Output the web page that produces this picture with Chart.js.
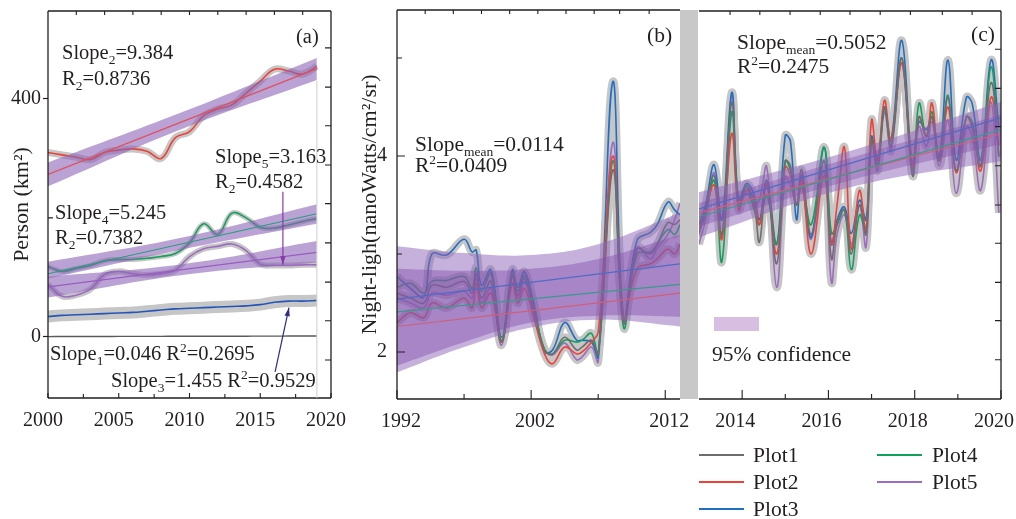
<!DOCTYPE html>
<html lang="en">
<head>
<meta charset="UTF-8">
<title>Night light trends</title>
<script src="https://cdn.jsdelivr.net/npm/chart.js@4"></script>
<style>
  html, body { margin: 0; padding: 0; background: #fff; width: 1016px; height: 519px; overflow: hidden; }
  body { position: relative; font-family: "Liberation Serif", "DejaVu Serif", serif; color: #231f20; }
  canvas { position: absolute; top: 0; }
  #chartA { left: 0; }
  #chartB { left: 340px; }
  #chartC { left: 685px; }
  .gap { position: absolute; left: 680px; top: 10px; width: 18px; height: 389px; background: #c8c8c8; }
  .note { position: absolute; font-size: 20.5px; line-height: 1; white-space: nowrap; }
  .big { font-size: 21.5px; }
  .note sub, .note sup { font-size: 13.5px; line-height: 0; }
  .key { position: absolute; height: 2px; width: 45px; }
  .swatch { position: absolute; left: 714px; top: 317px; width: 45px; height: 14px; background: #d8bfe2; }
</style>
</head>
<body>
<canvas id="chartA" width="360" height="432"></canvas>
<canvas id="chartB" width="360" height="432"></canvas>
<canvas id="chartC" width="340" height="432"></canvas>
<div class="gap"></div>

<div class="note" style="left:296px;top:26px">(a)</div>
<div class="note" style="left:62px;top:42px">Slope<sub>2</sub>=9.384</div>
<div class="note" style="left:62px;top:68px">R<sub>2</sub>=0.8736</div>
<div class="note" style="left:215px;top:146px">Slope<sub>5</sub>=3.163</div>
<div class="note" style="left:215px;top:171px">R<sub>2</sub>=0.4582</div>
<div class="note" style="left:55px;top:202px">Slope<sub>4</sub>=5.245</div>
<div class="note" style="left:55px;top:227px">R<sub>2</sub>=0.7382</div>
<div class="note" style="left:50px;top:343px">Slope<sub>1</sub>=0.046 R<sup>2</sup>=0.2695</div>
<div class="note" style="left:111px;top:370px">Slope<sub>3</sub>=1.455 R<sup>2</sup>=0.9529</div>

<div class="note big" style="left:647px;top:25px">(b)</div>
<div class="note big" style="left:415px;top:134px">Slope<sub>mean</sub>=0.0114</div>
<div class="note big" style="left:415px;top:155px">R<sup>2</sup>=0.0409</div>

<div class="note big" style="left:971px;top:24px">(c)</div>
<div class="note big" style="left:737px;top:32px">Slope<sub>mean</sub>=0.5052</div>
<div class="note big" style="left:737px;top:56px">R<sup>2</sup>=0.2475</div>

<div class="swatch"></div>
<div class="note big" style="left:712px;top:344px">95% confidence</div>

<div class="key" style="left:699px;top:454px;background:#6d6d6d"></div>
<div class="note big" style="left:753px;top:445px">Plot1</div>
<div class="key" style="left:699px;top:481px;background:#ef4136"></div>
<div class="note big" style="left:753px;top:472px">Plot2</div>
<div class="key" style="left:699px;top:508px;background:#1f6fc5"></div>
<div class="note big" style="left:753px;top:499px">Plot3</div>
<div class="key" style="left:877px;top:454px;background:#12a05c"></div>
<div class="note big" style="left:932px;top:445px">Plot4</div>
<div class="key" style="left:877px;top:481px;background:#9d6cc0"></div>
<div class="note big" style="left:932px;top:472px">Plot5</div>

<script>
// ---------- panel (a): area per person, 2000-2019 ----------
const yearsA = [2000, 2001, 2002, 2003, 2004, 2005, 2006, 2007, 2008, 2009,
                2010, 2011, 2012, 2013, 2014, 2015, 2016, 2017, 2018, 2019];
const plot1A = [0.3, 0.4, 0.4, 0.5, 0.5, 0.6, 0.6, 0.7, 0.7, 0.8, 0.8, 0.9, 0.9, 1.0, 1.0, 1.1, 1.1, 1.2, 1.2, 1.3];
const plot2A = [310, 306, 302, 298, 310, 314, 316, 312, 300, 335, 345, 372, 383, 390, 410, 430, 450, 447, 442, 455];
const plot3A = [34, 36, 37, 38, 39, 40, 41, 43, 45, 47, 48, 49, 50, 51, 52, 54, 58, 60, 60, 61];
const plot4A = [118, 110, 115, 120, 128, 130, 130, 132, 135, 140, 158, 190, 172, 208, 200, 184, 183, 188, 194, 199];
const plot5A = [88, 68, 70, 80, 105, 110, 106, 104, 106, 112, 135, 148, 152, 156, 145, 122, 120, 120, 121, 121];

const fitYearsA = [2000, 2019];
const fit2A = [273, 451];
const fit4A = [106, 207];
const fit5A = [84, 142];

const bandYearsA = [2000, 2009.5, 2019];
const band2HiA = [293, 378, 469];
const band2LoA = [253, 350, 432];
const band4HiA = [126, 167, 223];
const band4LoA = [98, 147, 190];
const band5HiA = [101, 122, 161];
const band5LoA = [66, 104, 125];

const xLabelsA = [2000, 2005, 2010, 2015, 2020];
const xMinorA = [2002.5, 2007.5, 2012.5, 2017.5];
const xTopA = [2002, 2004, 2006, 2008, 2010, 2012, 2014, 2016, 2018];
const yLabelsA = [0, 400];
const yMinorA = [200];
const yRightA = [-39, 27, 92, 158, 224, 289, 355, 420, 486];

// ---------- panel (b): night light 1992-2013 ----------
const tB = [1992.0, 1993.0, 1994.0, 1994.6, 1995.7, 1997.0, 1997.6, 1997.9, 1998.3, 1999.0,
            1999.8, 2000.6, 2001.0, 2001.5, 2002.2, 2003.0, 2003.6, 2004.5, 2005.4, 2005.8,
            2006.5, 2007.0, 2008.1, 2008.9, 2009.9, 2010.9, 2011.4, 2012.2, 2012.7, 2013.1];
const plot1B = [2.6, 2.55, 2.5, 2.68, 2.66, 2.72, 2.6, 2.8, 2.55, 2.72, 2.1, 2.78, 2.58, 2.75, 2.42,
                2.02, 1.98, 2.15, 2.02, 2.05, 2.12, 1.98, 3.86, 2.3, 3.05, 3.0, 3.1, 3.32, 3.3, 3.35];
const plot2B = [2.3, 2.4, 2.35, 2.5, 2.45, 2.55, 2.45, 2.7, 2.45, 2.6, 2.1, 2.7, 2.5, 2.65, 2.35,
                1.98, 1.88, 2.05, 1.98, 2.0, 2.1, 2.2, 4.0, 2.35, 2.85, 2.9, 2.95, 3.05, 3.0, 3.1];
const plot3B = [2.77, 2.65, 2.56, 3.0, 2.99, 3.15, 3.02, 3.04, 2.68, 2.84, 2.15, 2.84, 2.66, 2.82, 2.5,
                2.0, 2.02, 2.3, 2.12, 2.12, 2.1, 1.95, 4.76, 2.35, 3.14, 3.22, 3.3, 3.53, 3.45, 3.4];
const plot4B = [2.66, 2.7, 2.6, 2.72, 2.73, 2.77, 2.65, 2.86, 2.62, 2.8, 2.12, 2.8, 2.62, 2.78, 2.45,
                2.03, 1.98, 2.12, 2.1, 2.12, 2.19, 1.97, 3.95, 2.25, 3.0, 3.02, 3.1, 3.25, 3.2, 3.3];
const plot5B = [2.55, 2.5, 2.45, 2.6, 2.58, 2.62, 2.55, 2.75, 2.5, 2.65, 2.07, 2.78, 2.55, 2.72, 2.4,
                2.02, 1.97, 2.09, 1.92, 1.95, 2.05, 1.9, 4.14, 2.3, 3.07, 2.95, 3.06, 3.2, 3.35, 3.52];

const fitYearsB = [1992, 2013.1];
const fitBlueB = [2.54, 2.9];
const fitGreenB = [2.41, 2.69];
const fitRedB = [2.26, 2.6];

const bandYearsB = [1992, 1997, 2002, 2007, 2013.1];
const bandHiB = [3.08, 3.01, 2.99, 3.1, 3.42];
const bandLoB = [1.79, 2.05, 2.25, 2.33, 2.26];
const innerHiB = [2.85, 2.83, 2.85, 2.95, 3.2];
const innerLoB = [1.86, 2.1, 2.3, 2.37, 2.36];

const xLabelsB = [1992, 2002, 2012];
const xMinorB = [1997, 2007];
const xTopB = [1994.1, 1996.2, 1998.3, 2000.4, 2002.5, 2004.6, 2006.7, 2008.6, 2010.8];
const yLabelsB = [2, 4];
const yMinorB = [3, 5];

// ---------- panel (c): night light 2013-2020 ----------
const tC = [2013.0, 2013.15, 2013.35, 2013.53, 2013.76, 2013.92, 2014.1, 2014.28, 2014.4, 2014.57,
            2014.8, 2015.0, 2015.12, 2015.26, 2015.38, 2015.6, 2015.9, 2016.07, 2016.2, 2016.37,
            2016.53, 2016.72, 2016.87, 2017.0, 2017.14, 2017.3, 2017.45, 2017.7, 2017.95, 2018.1,
            2018.27, 2018.4, 2018.57, 2018.77, 2018.96, 2019.2, 2019.33, 2019.53, 2019.77, 2019.95];
const plot1C = [3.2, 3.45, 3.8, 3.2, 4.55, 3.5, 3.7, 3.5, 3.12, 3.75, 2.9, 3.95, 3.9, 3.5, 3.86, 3.2,
                3.95, 2.95, 3.3, 3.45, 3.0, 3.5, 3.2, 4.15, 3.9, 4.5, 4.1, 5.0, 3.8, 4.4, 4.2, 4.4,
                3.95, 4.6, 3.85, 4.4, 4.3, 3.9, 4.75, 4.0];
const plot2C = [3.25, 3.45, 3.7, 3.15, 4.23, 3.45, 3.65, 3.55, 3.3, 3.7, 3.0, 3.89, 3.8, 3.5, 3.75, 3.0,
                3.8, 3.1, 3.5, 4.09, 3.05, 3.65, 3.24, 4.37, 3.96, 4.57, 4.16, 4.95, 3.9, 4.4, 4.2, 4.54,
                3.95, 4.5, 3.83, 4.4, 4.3, 3.85, 4.6, 4.1];
const plot3C = [3.3, 3.5, 3.91, 3.35, 4.65, 3.55, 3.72, 3.6, 3.35, 3.75, 3.1, 4.21, 4.15, 3.35, 3.8, 3.17,
                4.09, 3.1, 3.35, 3.48, 3.21, 3.55, 3.35, 4.2, 3.96, 4.5, 4.16, 5.18, 3.9, 4.35, 4.27, 4.4,
                3.99, 4.98, 3.96, 4.6, 4.54, 3.96, 4.98, 4.3];
const plot4C = [3.22, 3.4, 3.75, 2.92, 4.45, 3.5, 3.68, 3.45, 3.3, 3.6, 3.1, 3.95, 3.85, 3.5, 3.7, 3.3,
                4.09, 3.21, 3.3, 3.45, 2.84, 3.4, 3.24, 4.16, 3.9, 4.5, 4.1, 5.0, 3.85, 4.54, 4.2, 4.45,
                3.95, 4.62, 3.85, 4.4, 4.35, 3.9, 4.91, 3.99];
const plot5C = [3.1, 3.35, 3.83, 3.17, 4.62, 3.5, 3.62, 3.5, 3.55, 3.89, 2.66, 3.79, 3.7, 3.52, 3.7, 3.15,
                3.85, 2.71, 3.2, 3.4, 3.1, 3.5, 3.07, 4.1, 3.85, 4.45, 4.05, 4.95, 3.8, 4.3, 4.1, 4.35,
                3.9, 4.37, 3.62, 4.3, 4.2, 3.65, 4.55, 3.42];

const fitYearsC = [2013, 2020];
const fitBlueC = [3.46, 4.39];
const fitGreenC = [3.38, 4.27];
const fitRedC = [3.42, 4.23];

const bandYearsC = [2013, 2016.5, 2020];
const bandHiC = [3.63, 4.05, 4.55];
const bandLoC = [3.17, 3.68, 3.95];
const innerHiC = [3.52, 3.98, 4.42];
const innerLoC = [3.28, 3.75, 4.12];

const xLabelsC = [2014, 2016, 2018, 2020];
const xMinorC = [2015, 2017, 2019];
const xTopC = [2013.72, 2014.41, 2015.11, 2015.81, 2016.5, 2017.2, 2017.9, 2018.64, 2019.33];
const yRightC = [1.92, 2.32, 2.71, 3.11, 3.5, 3.9, 4.3, 4.69, 5.09];

// ---------- look ----------
const ink = '#231f20';
const halo = '#c6c6c6';
const colors = { p1: '#6d6d6d', p2: '#ef4136', p3: '#1f6fc5', p4: '#12a05c', p5: '#9d6cc0' };
const tickFont = { family: 'Liberation Serif', size: 20 };
const titleFont = { family: 'Liberation Serif', size: 22 };

function pts(xs, ys) {
  return xs.map((x, i) => ({ x: x, y: ys[i] }));
}

function line(xs, ys, color, width, order) {
  return { data: pts(xs, ys), borderColor: color, borderWidth: width, pointRadius: 0,
           tension: 0.4, fill: false, order: order };
}

function band(xs, hi, lo, color, order) {
  return [
    { data: pts(xs, hi), borderColor: 'rgba(0,0,0,0)', borderWidth: 1, pointRadius: 0, tension: 0.4,
      fill: '+1', backgroundColor: color, order: order },
    { data: pts(xs, lo), borderColor: 'rgba(0,0,0,0)', borderWidth: 1, pointRadius: 0, tension: 0.4,
      fill: false, order: order }
  ];
}

// series with a grey halo behind them
function haloSeries(xs, list, width) {
  const out = [];
  list.forEach(s => {
    out.push(line(xs, s.ys, halo, width, 40));
    out.push(line(xs, s.ys, s.color, 1.6, 30));
  });
  return out;
}

// keep the plot area where the layout padding puts it
function noPad(s) {
  s.paddingTop = 0; s.paddingBottom = 0; s.paddingLeft = 0; s.paddingRight = 0;
}

function xAxis(min, max, labels, h, shift) {
  return {
    type: 'linear', position: 'bottom', min: min, max: max,
    afterBuildTicks: s => { s.ticks = labels.map(v => ({ value: v })); },
    afterFit: s => { s.height = h; noPad(s); },
    grid: { display: false },
    border: { display: false },
    ticks: { color: ink, font: tickFont, padding: 3, maxRotation: 0, autoSkip: false,
             labelOffset: shift, callback: v => String(v) }
  };
}

function yAxis(min, max, labels, w, title, titlePad, outTicks) {
  return {
    type: 'linear', position: 'left', min: min, max: max,
    afterBuildTicks: s => { s.ticks = labels.map(v => ({ value: v })); },
    afterFit: s => { s.width = w; noPad(s); },
    grid: { display: outTicks, drawOnChartArea: false, tickLength: 5, color: ink, tickWidth: 1.2 },
    border: { display: false },
    ticks: { color: ink, font: tickFont, padding: outTicks ? 2 : 5, callback: v => String(v) },
    title: { display: true, text: title, color: ink, font: titleFont, padding: { top: titlePad, bottom: 0 } }
  };
}

// frame, inner tick marks, arrows and reference lines
const framePlugin = {
  id: 'frame',
  afterDraw(chart, args, opts) {
    const { ctx, chartArea: a, scales } = chart;
    ctx.save();
    ctx.strokeStyle = ink;
    ctx.lineWidth = 1.3;
    ctx.beginPath();
    (opts.sides || []).forEach(s => {
      if (s === 'left') { ctx.moveTo(a.left, a.top); ctx.lineTo(a.left, a.bottom); }
      if (s === 'right') { ctx.moveTo(a.right, a.top); ctx.lineTo(a.right, a.bottom); }
      if (s === 'top') { ctx.moveTo(a.left, a.top); ctx.lineTo(a.right, a.top); }
      if (s === 'bottom') { ctx.moveTo(a.left, a.bottom); ctx.lineTo(a.right, a.bottom); }
    });
    ctx.stroke();

    ctx.lineWidth = 1.1;
    ctx.beginPath();
    (opts.ticks || []).forEach(t => {
      const sc = scales[t.scale];
      t.values.forEach(v => {
        const p = sc.getPixelForValue(v);
        if (t.side === 'bottom') { ctx.moveTo(p, a.bottom); ctx.lineTo(p, a.bottom - t.len); }
        if (t.side === 'top') { ctx.moveTo(p, a.top); ctx.lineTo(p, a.top + t.len); }
        if (t.side === 'left') { ctx.moveTo(a.left, p); ctx.lineTo(a.left + t.len, p); }
        if (t.side === 'right') { ctx.moveTo(a.right, p); ctx.lineTo(a.right - t.len, p); }
      });
    });
    ctx.stroke();

    (opts.refLines || []).forEach(r => {
      const x = scales.x.getPixelForValue(r.x);
      ctx.strokeStyle = r.color;
      ctx.lineWidth = 1;
      ctx.beginPath();
      ctx.moveTo(x, scales.y.getPixelForValue(r.from));
      ctx.lineTo(x, scales.y.getPixelForValue(r.to));
      ctx.stroke();
    });

    (opts.arrows || []).forEach(r => {
      const x0 = scales.x.getPixelForValue(r.from[0]), y0 = scales.y.getPixelForValue(r.from[1]);
      const x1 = scales.x.getPixelForValue(r.to[0]), y1 = scales.y.getPixelForValue(r.to[1]);
      const ang = Math.atan2(y1 - y0, x1 - x0);
      ctx.strokeStyle = r.color;
      ctx.fillStyle = r.color;
      ctx.lineWidth = 1.2;
      ctx.beginPath();
      ctx.moveTo(x0, y0);
      ctx.lineTo(x1, y1);
      ctx.stroke();
      ctx.beginPath();
      ctx.moveTo(x1, y1);
      ctx.lineTo(x1 - 9 * Math.cos(ang - 0.3), y1 - 9 * Math.sin(ang - 0.3));
      ctx.lineTo(x1 - 9 * Math.cos(ang + 0.3), y1 - 9 * Math.sin(ang + 0.3));
      ctx.closePath();
      ctx.fill();
    });
    ctx.restore();
  }
};

const baseOptions = {
  responsive: false,
  animation: false,
  events: [],
  plugins: { legend: { display: false }, tooltip: { enabled: false } }
};

// ---------- chart (a) ----------
new Chart(document.getElementById('chartA'), {
  type: 'line',
  data: {
    datasets: [
      line(fitYearsA, fit2A, '#e0505a', 1.2, 10),
      line(fitYearsA, fit4A, '#2a9d80', 1.2, 10),
      line(fitYearsA, fit5A, '#9a5cc0', 1.2, 10),
      ...band(bandYearsA, band2HiA, band2LoA, 'rgba(140,100,185,0.6)', 20),
      ...band(bandYearsA, band4HiA, band4LoA, 'rgba(140,100,185,0.6)', 20),
      ...band(bandYearsA, band5HiA, band5LoA, 'rgba(140,100,185,0.6)', 20),
      line(yearsA, plot1A, '#5a5a5a', 1.4, 30),
      line(yearsA, plot2A, colors.p2, 1.6, 30),
      line(yearsA, plot3A, '#2456b8', 1.6, 30),
      line(yearsA, plot4A, colors.p4, 1.6, 30),
      line(yearsA, plot5A, colors.p5, 1.6, 30),
      line(yearsA, plot2A, halo, 7, 40),
      line(yearsA, plot3A, halo, 12, 40),
      line(yearsA, plot4A, halo, 5, 40),
      line(yearsA, plot5A, halo, 6, 40)
    ]
  },
  options: {
    ...baseOptions,
    layout: { padding: { top: 11, right: 29, left: 0, bottom: 0 } },
    scales: {
      x: xAxis(2000, 2020, xLabelsA, 34, -5),
      y: yAxis(-103, 548, yLabelsA, 48, 'Person (km²)', 9, true)
    },
    plugins: {
      ...baseOptions.plugins,
      frame: {
        sides: ['left', 'top', 'right', 'bottom'],
        ticks: [
          { scale: 'x', side: 'bottom', values: xLabelsA, len: 5 },
          { scale: 'x', side: 'bottom', values: xMinorA, len: 4 },
          { scale: 'x', side: 'top', values: xTopA, len: 4 },
          { scale: 'y', side: 'left', values: yMinorA, len: 5 },
          { scale: 'y', side: 'right', values: yRightA, len: 6 }
        ],
        refLines: [{ x: 2019, from: -103, to: 430, color: '#cfcfcf' }],
        arrows: [
          { from: [2016.05, -59], to: [2017.03, 49], color: '#2b2b8c' },
          { from: [2016.6, 244], to: [2016.6, 121], color: '#8a3aa8' }
        ]
      }
    }
  },
  plugins: [framePlugin]
});

// ---------- chart (b) ----------
const seriesB = [
  { ys: plot1B, color: colors.p1 },
  { ys: plot2B, color: colors.p2 },
  { ys: plot4B, color: colors.p4 },
  { ys: plot3B, color: colors.p3 },
  { ys: plot5B, color: colors.p5 }
];

new Chart(document.getElementById('chartB'), {
  type: 'line',
  data: {
    datasets: [
      line(fitYearsB, fitBlueB, '#4f6cc4', 1.2, 10),
      line(fitYearsB, fitGreenB, '#3b9a8c', 1.2, 10),
      line(fitYearsB, fitRedB, '#cf6078', 1.2, 10),
      ...band(bandYearsB, innerHiB, innerLoB, 'rgba(130,80,170,0.45)', 15),
      ...band(bandYearsB, bandHiB, bandLoB, 'rgba(140,100,185,0.5)', 20),
      ...haloSeries(tB, seriesB, 8)
    ]
  },
  options: {
    ...baseOptions,
    layout: { padding: { top: 10, right: 20, left: 0, bottom: 0 } },
    scales: {
      x: xAxis(1992, 2013.1, xLabelsB, 33, 4),
      y: yAxis(1.52, 5.49, yLabelsB, 57, 'Night-ligh(nanoWatts/cm²/sr)', 17, false)
    },
    plugins: {
      ...baseOptions.plugins,
      frame: {
        sides: ['left', 'top', 'bottom'],
        ticks: [
          { scale: 'x', side: 'bottom', values: xLabelsB, len: 9 },
          { scale: 'x', side: 'bottom', values: xMinorB, len: 5 },
          { scale: 'x', side: 'top', values: xTopB, len: 4 },
          { scale: 'y', side: 'left', values: yLabelsB, len: 8 },
          { scale: 'y', side: 'left', values: yMinorB, len: 5 }
        ]
      }
    }
  },
  plugins: [framePlugin]
});

// ---------- chart (c) ----------
const seriesC = [
  { ys: plot1C, color: colors.p1 },
  { ys: plot2C, color: colors.p2 },
  { ys: plot4C, color: colors.p4 },
  { ys: plot3C, color: colors.p3 },
  { ys: plot5C, color: colors.p5 }
];

new Chart(document.getElementById('chartC'), {
  type: 'line',
  data: {
    datasets: [
      line(fitYearsC, fitBlueC, '#4f6cc4', 1.2, 10),
      line(fitYearsC, fitGreenC, '#3b9a8c', 1.2, 10),
      line(fitYearsC, fitRedC, '#cf6078', 1.2, 10),
      ...band(bandYearsC, innerHiC, innerLoC, 'rgba(130,80,170,0.4)', 15),
      ...band(bandYearsC, bandHiC, bandLoC, 'rgba(140,100,185,0.5)', 20),
      ...haloSeries(tC, seriesC, 8)
    ]
  },
  options: {
    ...baseOptions,
    layout: { padding: { top: 11, right: 24, left: 14, bottom: 0 } },
    scales: {
      x: xAxis(2013, 2020, xLabelsC, 33, -7),
      y: { type: 'linear', display: false, min: 1.52, max: 5.48 }
    },
    plugins: {
      ...baseOptions.plugins,
      frame: {
        sides: ['top', 'right', 'bottom'],
        ticks: [
          { scale: 'x', side: 'bottom', values: xLabelsC, len: 9 },
          { scale: 'x', side: 'bottom', values: xMinorC, len: 5 },
          { scale: 'x', side: 'top', values: xTopC, len: 4 },
          { scale: 'y', side: 'right', values: yRightC, len: 6 }
        ]
      }
    }
  },
  plugins: [framePlugin]
});
</script>
</body>
</html>
